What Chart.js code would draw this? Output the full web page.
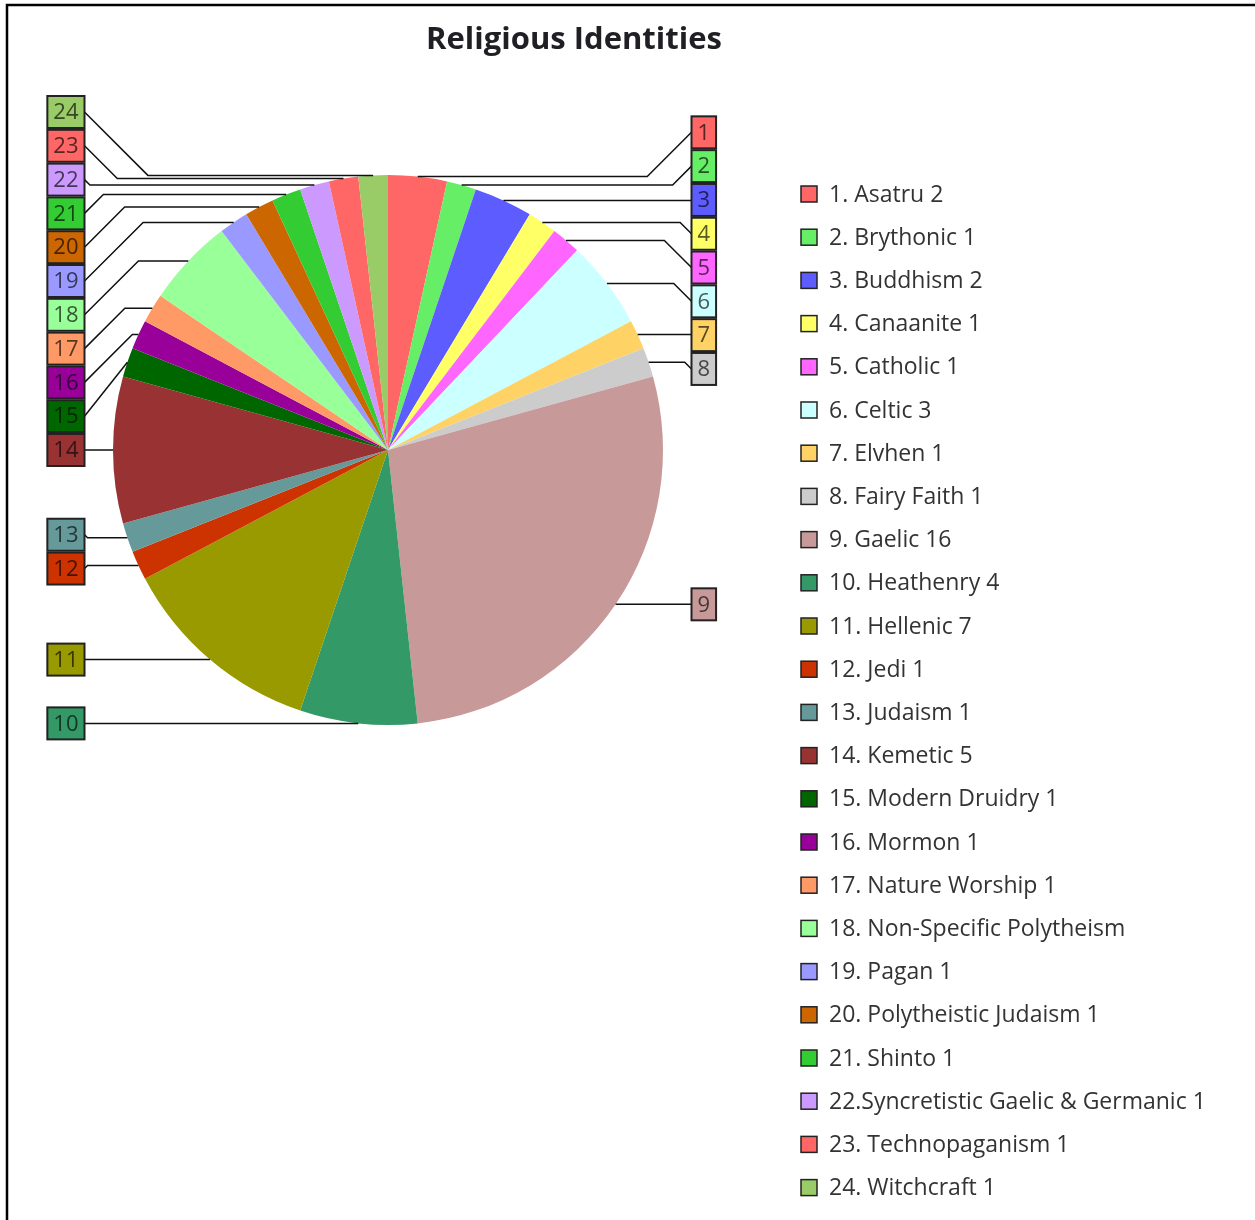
<!DOCTYPE html>
<html>
<head>
<meta charset="utf-8">
<title>Religious Identities</title>
<script src="https://cdn.jsdelivr.net/npm/chart.js@4.4.1/dist/chart.umd.min.js"></script>
<style>
  html, body { margin: 0; padding: 0; background: #fff; }
  #wrap { width: 1255px; height: 1220px; }
</style>
</head>
<body>
<div id="wrap"><canvas id="pie" width="1255" height="1220"></canvas></div>
<script>
// Survey answers, one slice per identity
const categories = [
    '1. Asatru', '2. Brythonic', '3. Buddhism', '4. Canaanite', '5. Catholic',
    '6. Celtic', '7. Elvhen', '8. Fairy Faith', '9. Gaelic', '10. Heathenry',
    '11. Hellenic', '12. Jedi', '13. Judaism', '14. Kemetic', '15. Modern Druidry',
    '16. Mormon', '17. Nature Worship', '18. Non-Specific Polytheism', '19. Pagan',
    '20. Polytheistic Judaism', '21. Shinto', '22.Syncretistic Gaelic & Germanic',
    '23. Technopaganism', '24. Witchcraft'
];
const values = [2, 1, 2, 1, 1, 3, 1, 1, 16, 4, 7, 1, 1, 5, 1, 1, 1, 3, 1, 1, 1, 1, 1, 1];
const colors = [
    '#ff6666', '#66ee66', '#5c5cff', '#ffff66', '#ff66ff', '#ccffff', '#ffd266', '#cccccc',
    '#c89999', '#339966', '#999900', '#cc3300', '#669999', '#993333', '#006600', '#990099',
    '#ff9966', '#99ff99', '#9999ff', '#cc6600', '#33cc33', '#cc99ff', '#ff6666', '#99cc66'
];
// legend entries whose count got cut off in the list
const legendWithoutValue = ['18. Non-Specific Polytheism'];

const FONT = '"Open Sans", "Noto Sans", sans-serif';

// darkened version of a slice colour, used for the numbers in the callout boxes
function darker(hex, k) {
    const n = parseInt(hex.slice(1), 16);
    const r = Math.round(((n >> 16) & 255) * k);
    const g = Math.round(((n >> 8) & 255) * k);
    const b = Math.round((n & 255) * k);
    return `rgb(${r}, ${g}, ${b})`;
}

// numbered boxes next to the pie, joined to their slice with a bent line
const calloutPlugin = {
    id: 'callouts',
    afterDatasetsDraw(chart) {
        const ctx = chart.ctx;
        const arcs = chart.getDatasetMeta(0).data;
        const gap = 33.8, boxH = 32, dist = 28.5, topLimit = 112;
        const left = [], right = [];

        arcs.forEach((arc, i) => {
            const mid = (arc.startAngle + arc.endAngle) / 2;
            const ex = arc.x + arc.outerRadius * Math.cos(mid);
            const ey = arc.y + arc.outerRadius * Math.sin(mid);
            (Math.cos(mid) >= 0 ? right : left).push({ i, ex, ey, y: ey });
        });

        // stack labels that would overlap, each group centred on its slices
        [left, right].forEach(side => {
            side.sort((a, b) => a.ey - b.ey);
            const groups = side.map(it => ({ items: [it], top: it.ey }));
            let merged = true;
            while (merged) {
                merged = false;
                groups.forEach(g => {
                    const mean = g.items.reduce((s, it) => s + it.ey, 0) / g.items.length;
                    g.top = Math.max(topLimit, mean - (g.items.length - 1) * gap / 2);
                });
                for (let k = 0; k < groups.length - 1; k++) {
                    const a = groups[k], b = groups[k + 1];
                    if (a.top + a.items.length * gap > b.top) {
                        a.items = a.items.concat(b.items);
                        groups.splice(k + 1, 1);
                        merged = true;
                        break;
                    }
                }
            }
            groups.forEach(g => g.items.forEach((it, n) => { it.y = g.top + n * gap; }));
        });

        const cx = arcs[0].x, r = arcs[0].outerRadius;
        ctx.save();
        ctx.font = '22px ' + FONT;
        ctx.textAlign = 'center';
        ctx.textBaseline = 'middle';

        function draw(it, edgeX, dir) {
            const txt = String(it.i + 1);
            const w = ctx.measureText(txt).width + 12;
            let elbow = edgeX - dir * Math.abs(it.y - it.ey);
            elbow = dir > 0 ? Math.max(elbow, it.ex) : Math.min(elbow, it.ex);

            ctx.strokeStyle = '#111';
            ctx.lineWidth = 1.5;
            ctx.beginPath();
            ctx.moveTo(it.ex, it.ey);
            ctx.lineTo(elbow, it.ey);
            ctx.lineTo(edgeX, it.y);
            ctx.stroke();

            const bx = dir > 0 ? edgeX : edgeX - w;
            ctx.fillStyle = colors[it.i];
            ctx.fillRect(bx, it.y - boxH / 2, w, boxH);
            ctx.lineWidth = 2;
            ctx.strokeStyle = '#222';
            ctx.strokeRect(bx, it.y - boxH / 2, w, boxH);
            ctx.fillStyle = darker(colors[it.i], 0.35);
            ctx.fillText(txt, bx + w / 2, it.y + 1);
        }

        right.forEach(it => draw(it, cx + r + dist, 1));
        left.forEach(it => draw(it, cx - r - dist, -1));
        ctx.restore();
    }
};

// title, legend list and frame
const decorPlugin = {
    id: 'decor',
    afterDraw(chart) {
        const ctx = chart.ctx;
        ctx.save();

        ctx.strokeStyle = '#000';
        ctx.lineWidth = 2.5;
        ctx.strokeRect(7, 5, 1260, 1240);

        ctx.fillStyle = '#1f1f24';
        ctx.font = 'bold 31px ' + FONT;
        ctx.textAlign = 'center';
        ctx.textBaseline = 'middle';
        ctx.fillText('Religious Identities', 574, 40);

        ctx.font = '23px ' + FONT;
        ctx.textAlign = 'left';
        chart.data.labels.forEach((label, i) => {
            const y = 194 + i * 43.2;
            ctx.fillStyle = colors[i];
            ctx.fillRect(801, y - 8, 16, 16);
            ctx.strokeStyle = '#222';
            ctx.lineWidth = 1.5;
            ctx.strokeRect(801, y - 8, 16, 16);
            ctx.fillStyle = '#333';
            const text = legendWithoutValue.includes(label) ? label : `${label} ${values[i]}`;
            ctx.fillText(text, 829, y + 1);
        });
        ctx.restore();
    }
};

const chart = new Chart(document.getElementById('pie'), {
    type: 'pie',
    data: {
        labels: categories,
        datasets: [{
            data: values,
            backgroundColor: colors,
            borderWidth: 0,
            hoverOffset: 0
        }]
    },
    options: {
        responsive: false,
        animation: false,
        events: [],
        layout: { padding: { left: 113, top: 175, right: 592, bottom: 495 } },
        plugins: {
            legend: { display: false },
            title: { display: false },
            tooltip: { enabled: false }
        }
    },
    plugins: [calloutPlugin, decorPlugin]
});
</script>
</body>
</html>
